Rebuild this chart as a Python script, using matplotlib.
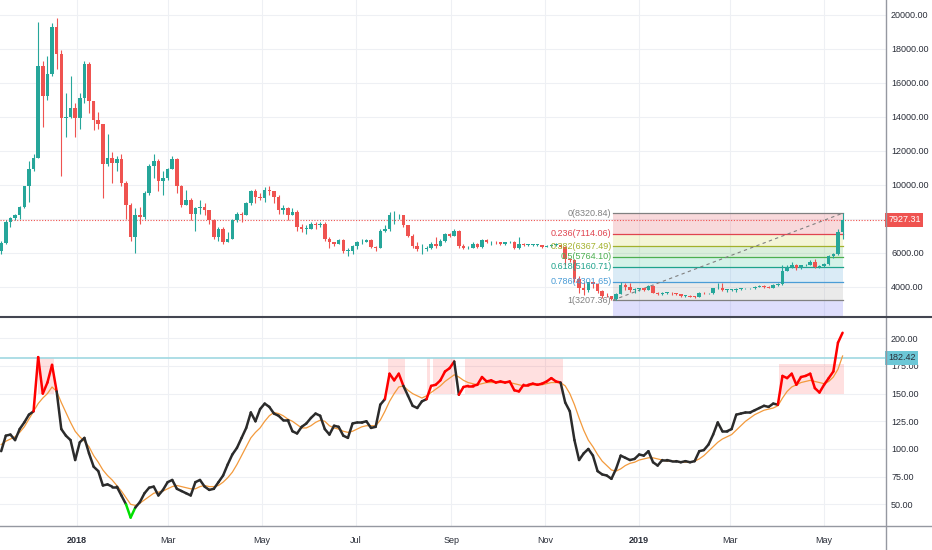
import numpy as np
import matplotlib.pyplot as plt
from matplotlib.collections import LineCollection
from matplotlib.lines import Line2D

plt.rcParams['font.family'] = ['Liberation Sans', 'DejaVu Sans']

# one candle every 3 days, counted in days from 1 Jan 2018 (13 Nov 2017 .. 13 May 2019)
days = np.arange(-49, 498, 3)

first_open = 6100
close = [6550, 7800, 8050, 8200, 8700, 9900, 10900, 11600, 17000, 15200,
         16500, 19300, 17700, 13900, 14000, 14500, 13900, 15100, 17100, 14900,
         13800, 13600, 11200, 11600, 11300, 11500, 10100, 8800, 6900, 8200,
         8100, 9500, 11100, 11400, 10200, 10400, 10900, 11500, 9900, 8800,
         9100, 8300, 8600, 8700, 8500, 7900, 6900, 7400, 6600, 6800,
         7900, 8300, 8200, 8900, 9600, 9300, 9200, 9700, 9600, 9300,
         8500, 8600, 8200, 8400, 7500, 7400, 7400, 7700, 7600, 7700,
         6800, 6600, 6500, 6750, 6100, 6100, 6400, 6600, 6600, 6750,
         6350, 6300, 7300, 7400, 8200, 8200, 8200, 7600, 7000, 6400,
         6200, 6200, 6300, 6500, 6400, 6700, 7100, 7000, 7300, 6400,
         6250, 6300, 6500, 6350, 6750, 6600, 6650, 6600, 6500, 6600,
         6650, 6250, 6500, 6450, 6450, 6450, 6450, 6350, 6400, 6450,
         6450, 6350, 5600, 5550, 4450, 3900, 3800, 4250, 4150, 3750,
         3450, 3430, 3250, 3550, 4100, 4000, 3800, 3850, 3900, 3800,
         4050, 3650, 3550, 3650, 3650, 3600, 3560, 3450, 3450, 3420,
         3400, 3650, 3600, 3600, 3900, 3950, 3800, 3800, 3800, 3850,
         3900, 3900, 3900, 4000, 4050, 4000, 3950, 4100, 4150, 4950,
         5150, 5300, 5100, 5250, 5300, 5450, 5150, 5200, 5350, 5800,
         5900, 7200, 7927.31]
high = [6700, 7950, 8100, 8300, 8750, 9950, 11400, 11800, 19600, 17300,
        17600, 19500, 19800, 17900, 15400, 16400, 14800, 15400, 17300, 17200,
        14900, 14300, 13600, 13000, 11900, 11700, 11800, 10200, 8900, 8600,
        8700, 9600, 11200, 11800, 11500, 10800, 11000, 11700, 11600, 10000,
        9700, 9200, 8700, 9100, 8900, 8500, 8000, 7500, 7500, 7200,
        8000, 8400, 8400, 9000, 9700, 9750, 9500, 9850, 9900, 9600,
        9400, 8800, 8700, 8600, 8500, 7700, 7600, 7800, 7800, 7800,
        7800, 6900, 6600, 6800, 6800, 6300, 6450, 6700, 6800, 6800,
        6800, 6400, 7400, 7600, 8400, 8450, 8300, 8200, 7600, 7100,
        6600, 6500, 6400, 6600, 6900, 6800, 7150, 7150, 7400, 7350,
        6500, 6400, 6600, 6550, 6800, 6800, 6700, 6700, 6650, 6650,
        6700, 6700, 6950, 6550, 6500, 6500, 6500, 6480, 6450, 6500,
        6550, 6480, 6400, 5650, 5600, 4650, 4300, 4300, 4300, 4200,
        3800, 3600, 3450, 3600, 4250, 4200, 4200, 3950, 3950, 3950,
        4100, 4100, 3700, 3700, 3700, 3680, 3620, 3570, 3500, 3500,
        3450, 3700, 3700, 3650, 3950, 4200, 4200, 3850, 3850, 3900,
        3950, 3950, 3950, 4050, 4100, 4080, 4050, 4150, 4200, 5300,
        5250, 5450, 5350, 5300, 5350, 5550, 5600, 5250, 5400, 5850,
        6000, 7400, 8320.84]
low = [5900, 6500, 7500, 7900, 8000, 8600, 9000, 10800, 11600, 13400,
       15000, 16400, 16800, 10500, 12800, 13900, 12800, 13300, 14800, 14200,
       13200, 13300, 9200, 11100, 10100, 10800, 9900, 8000, 6700, 6000,
       7700, 8000, 9400, 10400, 9600, 9400, 10300, 10900, 9500, 8700,
       8800, 7900, 7300, 8300, 8200, 7700, 6800, 6700, 6500, 6600,
       6800, 7800, 7800, 8200, 8800, 8900, 9100, 9000, 9400, 8900,
       8300, 8300, 7900, 8200, 7300, 7200, 7100, 7400, 7400, 7500,
       6700, 6300, 6400, 6500, 6000, 5800, 5900, 6200, 6500, 6600,
       6300, 6100, 6300, 7200, 7300, 7700, 8000, 7500, 6900, 6300,
       6100, 5900, 6100, 6200, 6300, 6400, 6600, 6900, 7000, 6300,
       6200, 6200, 6300, 6250, 6300, 6550, 6450, 6500, 6450, 6480,
       6550, 6200, 6200, 6400, 6400, 6400, 6400, 6300, 6330, 6350,
       6400, 6300, 5300, 5450, 4300, 3600, 3500, 3700, 3900, 3600,
       3350, 3380, 3207.36, 3220, 3550, 3800, 3700, 3650, 3750, 3750,
       3780, 3600, 3500, 3530, 3550, 3520, 3520, 3400, 3400, 3390,
       3350, 3390, 3570, 3550, 3580, 3870, 3750, 3700, 3750, 3700,
       3820, 3850, 3850, 3880, 3980, 3950, 3900, 3920, 4050, 4120,
       4900, 5100, 5000, 5050, 5200, 5250, 5100, 5100, 5150, 5300,
       5700, 5850, 6800]
last_price = 7927.31

# lower pane: oscillator and its moving average
osc = [98, 112, 113, 108, 118, 124, 131, 134, 183, 150,
       160, 176, 152, 118, 112, 108, 90, 106, 110, 96,
       84, 80, 67, 68, 66, 66, 58, 50, 38, 47,
       52, 60, 65, 66, 58, 63, 70, 72, 64, 62,
       60, 58, 70, 72, 66, 63, 64, 70, 76, 86,
       95, 101, 110, 119, 133, 125, 136, 141, 138, 132,
       130, 126, 126, 116, 114, 120, 123, 128, 132, 130,
       118, 113, 121, 120, 112, 110, 123, 124, 124, 125,
       119, 120, 140, 145, 168, 162, 168, 157, 148, 139,
       137, 143, 145, 157, 158, 162, 170, 173, 179, 149,
       156, 157, 157, 158, 165, 161, 162, 160, 161, 160,
       161, 153, 152, 158, 158, 159, 158, 159, 161, 164,
       161, 160, 142, 134, 108, 90, 96, 100, 94, 80,
       77, 76, 73, 82, 94, 92, 90, 91, 95, 94,
       98, 88, 85, 90, 90, 89, 89, 88, 89, 88,
       89, 98, 99, 104, 113, 124, 116, 116, 118, 131,
       132, 133, 133, 135, 137, 139, 138, 141, 140, 166,
       164, 168, 158, 165, 166, 168, 155, 151, 158, 164,
       170, 196, 205]
osc_ma = [104, 107, 109, 111, 115, 120, 127, 134, 141, 146,
          150, 156, 152, 142, 133, 124, 116, 111, 107, 102,
          94, 88, 81, 76, 72, 67, 62, 56, 50, 49,
          51, 54, 57, 60, 61, 62, 64, 66, 67, 66,
          65, 64, 64, 66, 67, 66, 66, 67, 70, 74,
          79, 86, 94, 102, 110, 115, 119, 125, 130, 133,
          132, 130, 127, 125, 122, 119, 119, 121, 124, 126,
          125, 121, 119, 118, 116, 115, 116, 118, 120, 121,
          121, 121, 126, 134, 143, 150, 156, 157, 153, 150,
          148, 146, 148, 151, 154, 157, 161, 164, 167, 165,
          162, 160, 159, 158, 159, 160, 160, 160, 160, 160,
          160, 159, 158, 157, 157, 158, 158, 158, 159, 160,
          160, 160, 157, 150, 140, 128, 117, 108, 102, 95,
          89, 85, 81, 80, 82, 85, 87, 88, 90, 91,
          92, 92, 91, 90, 89, 89, 89, 88, 88, 88,
          89, 91, 94, 98, 102, 106, 109, 111, 113, 117,
          121, 125, 128, 131, 133, 135, 136, 137, 139, 146,
          152, 156, 158, 160, 161, 162, 161, 160, 159, 161,
          165, 172, 184]
osc_level = 182.42
hot_level = 150
cold_level = 45

# shaded zones on the oscillator pane (days)
zone_from = [-25, 202, 227.5, 231, 252, 456]
zone_to = [-15, 213, 229.5, 245.5, 315.6, 498]
zone_top = [182.42, 182.42, 182.42, 182.42, 182.42, 177]

# fibonacci retracement drawn from the Dec 2018 low to the May 2019 high
fib_from, fib_to = 348, 497
fib_ratio = ['0', '0.236', '0.382', '0.5', '0.618', '0.786', '1']
fib_price = [8320.84, 7114.06, 6367.49, 5764.10, 5160.71, 4301.65, 3207.36]
fib_color = ['#808080', '#e0434f', '#a3b12c', '#4caf50', '#1fa38c', '#4a9cd6', '#808080']
fib_fill = ['#e0434f', '#c8cf3a', '#4caf50', '#2bbf8f', '#4a9cd6', '#9a9a9a', '#5c5cf0']

month_days = [0, 59, 120, 181, 243, 304, 365, 424, 485]
month_labels = ['2018', 'Mar', 'May', 'Jul', 'Sep', 'Nov', '2019', 'Mar', 'May']

UP = '#26a69a'
DOWN = '#ef5350'
GRID = '#eef0f4'
TXT = '#2a2e39'
FS = 6.5

W, H = 932, 550
fig = plt.figure(figsize=(W / 100, H / 100), dpi=100)
ax1 = fig.add_axes([0, 1 - 316.7 / H, 885.5 / W, 316.7 / H])
ax2 = fig.add_axes([0, 1 - 526 / H, 885.5 / W, (526 - 316.7) / H])

for ax in (ax1, ax2):
    ax.set_xlim(-49.77, 524.85)
    for s in ax.spines.values():
        s.set_visible(False)
    ax.grid(True, color=GRID, linewidth=0.8, zorder=0)
    ax.set_axisbelow(True)
    ax.set_xticks(month_days)
    ax.yaxis.tick_right()
    ax.tick_params(axis='both', length=0, labelsize=FS, labelcolor=TXT)
    ax.tick_params(axis='y', pad=4)

# ---- price pane
ax1.set_ylim(2235, 20865)
yt = list(range(4000, 20001, 2000))
ax1.set_yticks(yt)
ax1.set_yticklabels(['' if v == 8000 else f'{v:.2f}' for v in yt])
ax1.set_xticklabels([])

# fib bands, lines and labels
edges = fib_price + [ax1.get_ylim()[0]]
for i in range(len(fib_fill)):
    ax1.fill_between([fib_from, fib_to], edges[i + 1], edges[i],
                     color=fib_fill[i], alpha=0.2, linewidth=0, zorder=1)
for r, p, c in zip(fib_ratio, fib_price, fib_color):
    ax1.plot([fib_from, fib_to], [p, p], color=c, linewidth=0.9, zorder=2)
    ax1.text(fib_from - 1, p, f'{r}({p:.2f})', color=c, fontsize=FS,
             ha='right', va='center', zorder=6)
ax1.plot([fib_from, fib_to], [fib_price[-1], fib_price[0]], color='#808080',
         linewidth=0.8, linestyle=(0, (3, 3)), zorder=2)

ax1.axhline(last_price, color=DOWN, linewidth=0.8, linestyle=(0, (1, 1.5)), zorder=2)

close_a = np.array(close)
open_a = np.array([first_open] + close[:-1])
cols = np.where(close_a >= open_a, UP, DOWN)
ax1.vlines(days, low, high, colors=cols, linewidth=0.8, zorder=3)
ax1.bar(days, np.maximum(np.abs(close_a - open_a), 40), bottom=np.minimum(open_a, close_a),
        width=2.3, color=cols, linewidth=0, zorder=4)

ax1.text(1.003, last_price, f'{last_price:.2f}', transform=ax1.get_yaxis_transform(),
         color='white', fontsize=FS, ha='left', va='center', clip_on=False, zorder=10,
         bbox=dict(boxstyle='square,pad=0.3', fc=DOWN, ec='none'))

# ---- oscillator pane
ax2.set_ylim(30.4, 219.5)
ot = list(range(50, 201, 25))
ax2.set_yticks(ot)
ax2.set_yticklabels([f'{v:.2f}' for v in ot])
ax2.set_xticklabels(month_labels)
ax2.tick_params(axis='x', pad=7)
for lab in ax2.get_xticklabels():
    if lab.get_text().isdigit():
        lab.set_fontweight('bold')

for a, b, t in zip(zone_from, zone_to, zone_top):
    ax2.fill_between([a, b], hot_level, t, color='#ff0000', alpha=0.12,
                     linewidth=0, zorder=1)
ax2.axhline(osc_level, color='#9fd8e2', linewidth=1.2, zorder=2)

ax2.plot(days, osc_ma, color='#f39a3c', linewidth=0.9, zorder=3)

osc_a = np.array(osc)
pts = np.column_stack([days, osc_a])
segs = np.stack([pts[:-1], pts[1:]], axis=1)
seg_cols = []
for v0, v1 in zip(osc_a[:-1], osc_a[1:]):
    if min(v0, v1) < cold_level:
        seg_cols.append('#00e000')
    elif v1 >= hot_level:
        seg_cols.append('#ff0000')
    else:
        seg_cols.append('#2b2b2b')
ax2.add_collection(LineCollection(segs, colors=seg_cols, linewidths=1.8,
                                  capstyle='round', joinstyle='round', zorder=4))

ax2.text(1.003, osc_level, f'{osc_level:.2f}', transform=ax2.get_yaxis_transform(),
         color=TXT, fontsize=FS, ha='left', va='center', clip_on=False, zorder=10,
         bbox=dict(boxstyle='square,pad=0.3', fc='#6cc7d6', ec='none'))

# pane borders
fig.add_artist(Line2D([885.5 / W] * 2, [0, 1], color='#9598a1', linewidth=1))
fig.add_artist(Line2D([0, 1], [1 - 316.7 / H] * 2, color='#434651', linewidth=1.5))
fig.add_artist(Line2D([0, 1], [1 - 526 / H] * 2, color='#9598a1', linewidth=1))

fig.savefig('out.png', dpi=100, facecolor='white')
